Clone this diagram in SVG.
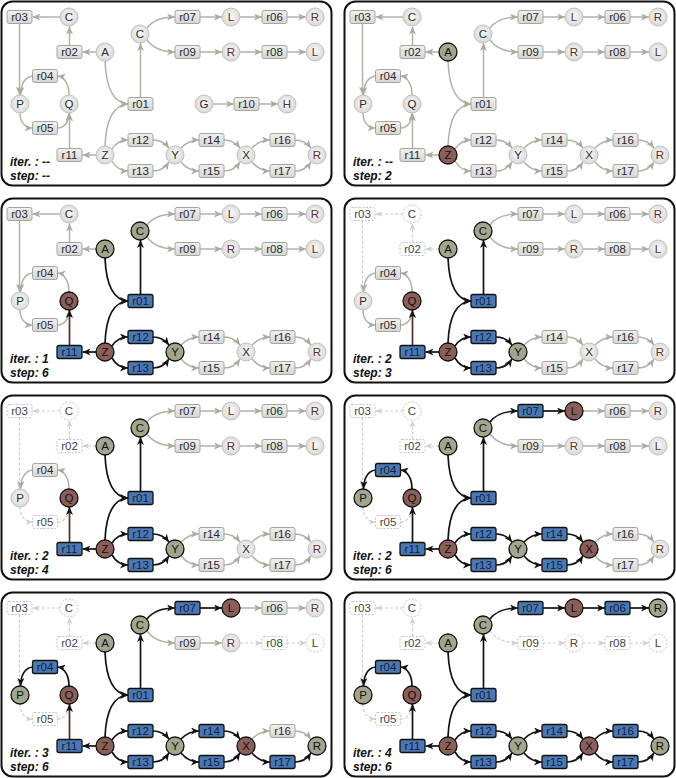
<svg xmlns="http://www.w3.org/2000/svg" width="676" height="778" viewBox="0 0 676 778">
<defs>
<style>
.pn{fill:#fff;stroke:#111;stroke-width:2}
text{font-family:"Liberation Sans",Arial,sans-serif;font-size:11.5px;text-anchor:middle;fill:#2a2a2a}
.lb{font-weight:bold;font-style:italic;text-anchor:start;fill:#111;font-size:12px}
.b rect{fill:url(#gb);stroke:#a3a79a;stroke-width:1}
.c circle{fill:url(#gc);stroke:#c0c2b8;stroke-width:1}
.r text{fill:#5e2d2d}
.A rect{fill:#4a78b4;stroke:#111;stroke-width:1.3}
.A text{fill:#13203a}
.O circle{fill:#a1a68d;stroke:#111;stroke-width:1.3}
.K circle{fill:#8b5e58;stroke:#111;stroke-width:1.3}
.O text,.K text{fill:#111}
.D rect,.D circle{fill:#fff;stroke:#c4c4c4;stroke-dasharray:2 1.5}
.D text{fill:#444}
.e{fill:none;stroke:#b0b4a7;stroke-width:1.5;marker-end:url(#mg)}
.a{fill:none;stroke:#111;stroke-width:1.7;marker-end:url(#mk)}
.ab{fill:none;stroke:#5a2a2a;stroke-width:1.7;marker-end:url(#mk)}
.d{fill:none;stroke:#cdcdcd;stroke-width:1.2;stroke-dasharray:3 2;marker-end:url(#md)}
</style>
<linearGradient id="gb" x1="0" y1="0" x2="0" y2="1"><stop offset="0" stop-color="#f0f0f0"/><stop offset="1" stop-color="#d6d6d6"/></linearGradient>
<radialGradient id="gc" cx="50%" cy="45%" r="60%"><stop offset="0" stop-color="#fbfbfb"/><stop offset="1" stop-color="#d4d4d4"/></radialGradient>
<marker id="mg" markerUnits="userSpaceOnUse" viewBox="0 0 8 7" refX="8" refY="3.5" markerWidth="8" markerHeight="7" orient="auto"><path d="M0,0L8,3.5L0,7L2.2,3.5z" fill="#a9ad9f"/></marker>
<marker id="mk" markerUnits="userSpaceOnUse" viewBox="0 0 8 7" refX="8" refY="3.5" markerWidth="8" markerHeight="7" orient="auto"><path d="M0,0L8,3.5L0,7L2.2,3.5z" fill="#111"/></marker>
<marker id="md" markerUnits="userSpaceOnUse" viewBox="0 0 8 7" refX="8" refY="3.5" markerWidth="7" markerHeight="6" orient="auto"><path d="M0,0L8,3.5L0,7L2.2,3.5z" fill="#d0d0d0"/></marker>
</defs>

<!-- PANEL 1 -->
<g id="panel1" transform="translate(0,0)">
<rect class="pn" x="1.5" y="1.5" width="330" height="184" rx="11"/>
<g id="p1-edges">
<path class="e" d="M60,17H32.5"/><path class="e" d="M69.5,45.5V26.5"/><path class="e" d="M96,52H82.5"/><path class="e" d="M19.5,23.5V95"/>
<path class="e" d="M32.5,76C25,77 21,84 20.5,95"/><path class="e" d="M69,95C69,85 65,77 57.5,76"/><path class="e" d="M20,113C20,122 25,128 32.5,128"/><path class="e" d="M57.5,128C65,128 69,121 69,113"/>
<path class="e" d="M69.5,148.5V113"/><path class="e" d="M96,155H82.5"/><path class="e" d="M105,61C106,86 113,103 128,104"/><path class="e" d="M105,146C106,121 113,105 128,104"/>
<path class="e" d="M140.5,97.5V43"/><path class="e" d="M147,28C153,20 162,17 175,17"/><path class="e" d="M147,40C153,48 162,52 175,52"/>
<path class="e" d="M200,17H222"/><path class="e" d="M240,17H262"/><path class="e" d="M287,17H306"/><path class="e" d="M200,52H222"/><path class="e" d="M240,52H262"/><path class="e" d="M287,52H306"/>
<path class="e" d="M213,104H234"/><path class="e" d="M259,104H278"/>
<path class="e" d="M112,149C116,143 121,140 128,140"/><path class="e" d="M112,161C116,168 121,171 128,171"/><path class="e" d="M153,140C160,140 165,143 169,148"/><path class="e" d="M153,171C160,171 165,168 169,162"/>
<path class="e" d="M181,148C186,143 192,140 199,140"/><path class="e" d="M181,162C186,168 192,171 199,171"/><path class="e" d="M224,140C231,140 236,143 240,148"/><path class="e" d="M224,171C231,171 236,168 240,162"/>
<path class="e" d="M252,148C257,143 263,140 270,140"/><path class="e" d="M252,162C257,168 263,171 270,171"/><path class="e" d="M295,140C302,140 307,143 311,148"/><path class="e" d="M295,171C302,171 307,168 311,162"/>
</g>
<g id="p1-r03" class="b"><rect x="7" y="10.5" width="25" height="13" rx="2"/><text x="19.5" y="21">r03</text></g>
<g id="p1-C1" class="c"><circle cx="69" cy="17" r="9"/><text x="69" y="21">C</text></g>
<g id="p1-r02" class="b"><rect x="57" y="45.5" width="25" height="13" rx="2"/><text x="69.5" y="56">r02</text></g>
<g id="p1-A" class="c"><circle cx="105" cy="52" r="9"/><text x="105" y="56">A</text></g>
<g id="p1-r04" class="b"><rect x="32.5" y="69.5" width="25" height="13" rx="2"/><text x="45" y="80">r04</text></g>
<g id="p1-P" class="c"><circle cx="20" cy="104" r="9"/><text x="20" y="108">P</text></g>
<g id="p1-Q" class="c"><circle cx="69" cy="104" r="9"/><text x="69" y="108">Q</text></g>
<g id="p1-r05" class="b"><rect x="32.5" y="121.5" width="25" height="13" rx="2"/><text x="45" y="132">r05</text></g>
<g id="p1-r11" class="b"><rect x="57" y="148.5" width="25" height="13" rx="2"/><text x="69.5" y="159">r11</text></g>
<g id="p1-Z" class="c"><circle cx="105" cy="155" r="9"/><text x="105" y="159">Z</text></g>
<g id="p1-r01" class="b"><rect x="128" y="97.5" width="25" height="13" rx="2"/><text x="140.5" y="108">r01</text></g>
<g id="p1-C2" class="c"><circle cx="140" cy="34" r="9"/><text x="140" y="38">C</text></g>
<g id="p1-r07" class="b"><rect x="175" y="10.5" width="25" height="13" rx="2"/><text x="187.5" y="21">r07</text></g>
<g id="p1-L1" class="c r"><circle cx="231" cy="17" r="9"/><text x="231" y="21">L</text></g>
<g id="p1-r06" class="b"><rect x="262" y="10.5" width="25" height="13" rx="2"/><text x="274.5" y="21">r06</text></g>
<g id="p1-R1" class="c r"><circle cx="315" cy="17" r="9"/><text x="315" y="21">R</text></g>
<g id="p1-r09" class="b"><rect x="175" y="45.5" width="25" height="13" rx="2"/><text x="187.5" y="56">r09</text></g>
<g id="p1-R2" class="c r"><circle cx="231" cy="52" r="9"/><text x="231" y="56">R</text></g>
<g id="p1-r08" class="b"><rect x="262" y="45.5" width="25" height="13" rx="2"/><text x="274.5" y="56">r08</text></g>
<g id="p1-L2" class="c r"><circle cx="315" cy="52" r="9"/><text x="315" y="56">L</text></g>
<g id="p1-G" class="c"><circle cx="204" cy="104" r="9"/><text x="204" y="108">G</text></g>
<g id="p1-r10" class="b"><rect x="234" y="97.5" width="25" height="13" rx="2"/><text x="246.5" y="108">r10</text></g>
<g id="p1-H" class="c r"><circle cx="287" cy="104" r="9"/><text x="287" y="108">H</text></g>
<g id="p1-r12" class="b"><rect x="128" y="133.5" width="25" height="13" rx="2"/><text x="140.5" y="144">r12</text></g>
<g id="p1-r13" class="b"><rect x="128" y="164.5" width="25" height="13" rx="2"/><text x="140.5" y="175">r13</text></g>
<g id="p1-Y" class="c"><circle cx="175" cy="155" r="9"/><text x="175" y="159">Y</text></g>
<g id="p1-r14" class="b"><rect x="199" y="133.5" width="25" height="13" rx="2"/><text x="211.5" y="144">r14</text></g>
<g id="p1-r15" class="b"><rect x="199" y="164.5" width="25" height="13" rx="2"/><text x="211.5" y="175">r15</text></g>
<g id="p1-X" class="c"><circle cx="246" cy="155" r="9"/><text x="246" y="159">X</text></g>
<g id="p1-r16" class="b"><rect x="270" y="133.5" width="25" height="13" rx="2"/><text x="282.5" y="144">r16</text></g>
<g id="p1-r17" class="b"><rect x="270" y="164.5" width="25" height="13" rx="2"/><text x="282.5" y="175">r17</text></g>
<g id="p1-R3" class="c r"><circle cx="317" cy="155" r="9"/><text x="317" y="159">R</text></g>
<text class="lb" x="10" y="166">iter. : --</text><text class="lb" x="10" y="180">step: --</text>
</g>

<!-- PANEL 2 -->
<g id="panel2" transform="translate(343,0)">
<rect class="pn" x="1.5" y="1.5" width="330" height="184" rx="11"/>
<g id="p2-edges">
<path class="e" d="M60,17H32.5"/><path class="e" d="M69.5,45.5V26.5"/><path class="e" d="M96,52H82.5"/><path class="e" d="M19.5,23.5V95"/>
<path class="e" d="M32.5,76C25,77 21,84 20.5,95"/><path class="e" d="M69,95C69,85 65,77 57.5,76"/><path class="e" d="M20,113C20,122 25,128 32.5,128"/><path class="e" d="M57.5,128C65,128 69,121 69,113"/>
<path class="e" d="M69.5,148.5V113"/><path class="e" d="M96,155H82.5"/><path class="e" d="M105,61C106,86 113,103 128,104"/><path class="e" d="M105,146C106,121 113,105 128,104"/>
<path class="e" d="M140.5,97.5V43"/><path class="e" d="M147,28C153,20 162,17 175,17"/><path class="e" d="M147,40C153,48 162,52 175,52"/>
<path class="e" d="M200,17H222"/><path class="e" d="M240,17H262"/><path class="e" d="M287,17H306"/><path class="e" d="M200,52H222"/><path class="e" d="M240,52H262"/><path class="e" d="M287,52H306"/>
<path class="e" d="M112,149C116,143 121,140 128,140"/><path class="e" d="M112,161C116,168 121,171 128,171"/><path class="e" d="M153,140C160,140 165,143 169,148"/><path class="e" d="M153,171C160,171 165,168 169,162"/>
<path class="e" d="M181,148C186,143 192,140 199,140"/><path class="e" d="M181,162C186,168 192,171 199,171"/><path class="e" d="M224,140C231,140 236,143 240,148"/><path class="e" d="M224,171C231,171 236,168 240,162"/>
<path class="e" d="M252,148C257,143 263,140 270,140"/><path class="e" d="M252,162C257,168 263,171 270,171"/><path class="e" d="M295,140C302,140 307,143 311,148"/><path class="e" d="M295,171C302,171 307,168 311,162"/>
</g>
<g id="p2-r03" class="b"><rect x="7" y="10.5" width="25" height="13" rx="2"/><text x="19.5" y="21">r03</text></g>
<g id="p2-C1" class="c"><circle cx="69" cy="17" r="9"/><text x="69" y="21">C</text></g>
<g id="p2-r02" class="b"><rect x="57" y="45.5" width="25" height="13" rx="2"/><text x="69.5" y="56">r02</text></g>
<g id="p2-A" class="c O"><circle cx="105" cy="52" r="9"/><text x="105" y="56">A</text></g>
<g id="p2-r04" class="b"><rect x="32.5" y="69.5" width="25" height="13" rx="2"/><text x="45" y="80">r04</text></g>
<g id="p2-P" class="c"><circle cx="20" cy="104" r="9"/><text x="20" y="108">P</text></g>
<g id="p2-Q" class="c"><circle cx="69" cy="104" r="9"/><text x="69" y="108">Q</text></g>
<g id="p2-r05" class="b"><rect x="32.5" y="121.5" width="25" height="13" rx="2"/><text x="45" y="132">r05</text></g>
<g id="p2-r11" class="b"><rect x="57" y="148.5" width="25" height="13" rx="2"/><text x="69.5" y="159">r11</text></g>
<g id="p2-Z" class="c K"><circle cx="105" cy="155" r="9"/><text x="105" y="159">Z</text></g>
<g id="p2-r01" class="b"><rect x="128" y="97.5" width="25" height="13" rx="2"/><text x="140.5" y="108">r01</text></g>
<g id="p2-C2" class="c"><circle cx="140" cy="34" r="9"/><text x="140" y="38">C</text></g>
<g id="p2-r07" class="b"><rect x="175" y="10.5" width="25" height="13" rx="2"/><text x="187.5" y="21">r07</text></g>
<g id="p2-L1" class="c r"><circle cx="231" cy="17" r="9"/><text x="231" y="21">L</text></g>
<g id="p2-r06" class="b"><rect x="262" y="10.5" width="25" height="13" rx="2"/><text x="274.5" y="21">r06</text></g>
<g id="p2-R1" class="c r"><circle cx="315" cy="17" r="9"/><text x="315" y="21">R</text></g>
<g id="p2-r09" class="b"><rect x="175" y="45.5" width="25" height="13" rx="2"/><text x="187.5" y="56">r09</text></g>
<g id="p2-R2" class="c r"><circle cx="231" cy="52" r="9"/><text x="231" y="56">R</text></g>
<g id="p2-r08" class="b"><rect x="262" y="45.5" width="25" height="13" rx="2"/><text x="274.5" y="56">r08</text></g>
<g id="p2-L2" class="c r"><circle cx="315" cy="52" r="9"/><text x="315" y="56">L</text></g>
<g id="p2-r12" class="b"><rect x="128" y="133.5" width="25" height="13" rx="2"/><text x="140.5" y="144">r12</text></g>
<g id="p2-r13" class="b"><rect x="128" y="164.5" width="25" height="13" rx="2"/><text x="140.5" y="175">r13</text></g>
<g id="p2-Y" class="c"><circle cx="175" cy="155" r="9"/><text x="175" y="159">Y</text></g>
<g id="p2-r14" class="b"><rect x="199" y="133.5" width="25" height="13" rx="2"/><text x="211.5" y="144">r14</text></g>
<g id="p2-r15" class="b"><rect x="199" y="164.5" width="25" height="13" rx="2"/><text x="211.5" y="175">r15</text></g>
<g id="p2-X" class="c"><circle cx="246" cy="155" r="9"/><text x="246" y="159">X</text></g>
<g id="p2-r16" class="b"><rect x="270" y="133.5" width="25" height="13" rx="2"/><text x="282.5" y="144">r16</text></g>
<g id="p2-r17" class="b"><rect x="270" y="164.5" width="25" height="13" rx="2"/><text x="282.5" y="175">r17</text></g>
<g id="p2-R3" class="c r"><circle cx="317" cy="155" r="9"/><text x="317" y="159">R</text></g>
<text class="lb" x="10" y="166">iter. : --</text><text class="lb" x="10" y="180">step: 2</text>
</g>

<!-- PANEL 3 -->
<g id="panel3" transform="translate(0,197)">
<rect class="pn" x="1.5" y="1.5" width="330" height="184" rx="11"/>
<g id="p3-edges">
<path class="e" d="M60,17H32.5"/><path class="e" d="M69.5,45.5V26.5"/><path class="e" d="M96,52H82.5"/><path class="e" d="M19.5,23.5V95"/>
<path class="e" d="M32.5,76C25,77 21,84 20.5,95"/><path class="e" d="M69,95C69,85 65,77 57.5,76"/><path class="e" d="M20,113C20,122 25,128 32.5,128"/><path class="e" d="M57.5,128C65,128 69,121 69,113"/>
<path class="ab" d="M69.5,148.5V113"/><path class="a" d="M96,155H82.5"/><path class="a" d="M105,61C106,86 113,103 128,104"/><path class="a" d="M105,146C106,121 113,105 128,104"/>
<path class="a" d="M140.5,97.5V43"/><path class="e" d="M147,28C153,20 162,17 175,17"/><path class="e" d="M147,40C153,48 162,52 175,52"/>
<path class="e" d="M200,17H222"/><path class="e" d="M240,17H262"/><path class="e" d="M287,17H306"/><path class="e" d="M200,52H222"/><path class="e" d="M240,52H262"/><path class="e" d="M287,52H306"/>
<path class="a" d="M112,149C116,143 121,140 128,140"/><path class="a" d="M112,161C116,168 121,171 128,171"/><path class="a" d="M153,140C160,140 165,143 169,148"/><path class="a" d="M153,171C160,171 165,168 169,162"/>
<path class="e" d="M181,148C186,143 192,140 199,140"/><path class="e" d="M181,162C186,168 192,171 199,171"/><path class="e" d="M224,140C231,140 236,143 240,148"/><path class="e" d="M224,171C231,171 236,168 240,162"/>
<path class="e" d="M252,148C257,143 263,140 270,140"/><path class="e" d="M252,162C257,168 263,171 270,171"/><path class="e" d="M295,140C302,140 307,143 311,148"/><path class="e" d="M295,171C302,171 307,168 311,162"/>
</g>
<g id="p3-r03" class="b"><rect x="7" y="10.5" width="25" height="13" rx="2"/><text x="19.5" y="21">r03</text></g>
<g id="p3-C1" class="c"><circle cx="69" cy="17" r="9"/><text x="69" y="21">C</text></g>
<g id="p3-r02" class="b"><rect x="57" y="45.5" width="25" height="13" rx="2"/><text x="69.5" y="56">r02</text></g>
<g id="p3-A" class="c O"><circle cx="105" cy="52" r="9"/><text x="105" y="56">A</text></g>
<g id="p3-r04" class="b"><rect x="32.5" y="69.5" width="25" height="13" rx="2"/><text x="45" y="80">r04</text></g>
<g id="p3-P" class="c"><circle cx="20" cy="104" r="9"/><text x="20" y="108">P</text></g>
<g id="p3-Q" class="c K"><circle cx="69" cy="104" r="9"/><text x="69" y="108">Q</text></g>
<g id="p3-r05" class="b"><rect x="32.5" y="121.5" width="25" height="13" rx="2"/><text x="45" y="132">r05</text></g>
<g id="p3-r11" class="b A"><rect x="57" y="148.5" width="25" height="13" rx="2"/><text x="69.5" y="159">r11</text></g>
<g id="p3-Z" class="c K"><circle cx="105" cy="155" r="9"/><text x="105" y="159">Z</text></g>
<g id="p3-r01" class="b A"><rect x="128" y="97.5" width="25" height="13" rx="2"/><text x="140.5" y="108">r01</text></g>
<g id="p3-C2" class="c O"><circle cx="140" cy="34" r="9"/><text x="140" y="38">C</text></g>
<g id="p3-r07" class="b"><rect x="175" y="10.5" width="25" height="13" rx="2"/><text x="187.5" y="21">r07</text></g>
<g id="p3-L1" class="c r"><circle cx="231" cy="17" r="9"/><text x="231" y="21">L</text></g>
<g id="p3-r06" class="b"><rect x="262" y="10.5" width="25" height="13" rx="2"/><text x="274.5" y="21">r06</text></g>
<g id="p3-R1" class="c r"><circle cx="315" cy="17" r="9"/><text x="315" y="21">R</text></g>
<g id="p3-r09" class="b"><rect x="175" y="45.5" width="25" height="13" rx="2"/><text x="187.5" y="56">r09</text></g>
<g id="p3-R2" class="c r"><circle cx="231" cy="52" r="9"/><text x="231" y="56">R</text></g>
<g id="p3-r08" class="b"><rect x="262" y="45.5" width="25" height="13" rx="2"/><text x="274.5" y="56">r08</text></g>
<g id="p3-L2" class="c r"><circle cx="315" cy="52" r="9"/><text x="315" y="56">L</text></g>
<g id="p3-r12" class="b A"><rect x="128" y="133.5" width="25" height="13" rx="2"/><text x="140.5" y="144">r12</text></g>
<g id="p3-r13" class="b A"><rect x="128" y="164.5" width="25" height="13" rx="2"/><text x="140.5" y="175">r13</text></g>
<g id="p3-Y" class="c O"><circle cx="175" cy="155" r="9"/><text x="175" y="159">Y</text></g>
<g id="p3-r14" class="b"><rect x="199" y="133.5" width="25" height="13" rx="2"/><text x="211.5" y="144">r14</text></g>
<g id="p3-r15" class="b"><rect x="199" y="164.5" width="25" height="13" rx="2"/><text x="211.5" y="175">r15</text></g>
<g id="p3-X" class="c"><circle cx="246" cy="155" r="9"/><text x="246" y="159">X</text></g>
<g id="p3-r16" class="b"><rect x="270" y="133.5" width="25" height="13" rx="2"/><text x="282.5" y="144">r16</text></g>
<g id="p3-r17" class="b"><rect x="270" y="164.5" width="25" height="13" rx="2"/><text x="282.5" y="175">r17</text></g>
<g id="p3-R3" class="c r"><circle cx="317" cy="155" r="9"/><text x="317" y="159">R</text></g>
<text class="lb" x="10" y="166">iter. : 1</text><text class="lb" x="10" y="180">step: 6</text>
</g>

<!-- PANEL 4 -->
<g id="panel4" transform="translate(343,197)">
<rect class="pn" x="1.5" y="1.5" width="330" height="184" rx="11"/>
<g id="p4-edges">
<path class="d" d="M60,17H32.5"/><path class="d" d="M69.5,45.5V26.5"/><path class="d" d="M96,52H82.5"/><path class="d" d="M19.5,23.5V95"/>
<path class="e" d="M32.5,76C25,77 21,84 20.5,95"/><path class="e" d="M69,95C69,85 65,77 57.5,76"/><path class="e" d="M20,113C20,122 25,128 32.5,128"/><path class="e" d="M57.5,128C65,128 69,121 69,113"/>
<path class="ab" d="M69.5,148.5V113"/><path class="a" d="M96,155H82.5"/><path class="a" d="M105,61C106,86 113,103 128,104"/><path class="a" d="M105,146C106,121 113,105 128,104"/>
<path class="a" d="M140.5,97.5V43"/><path class="e" d="M147,28C153,20 162,17 175,17"/><path class="e" d="M147,40C153,48 162,52 175,52"/>
<path class="e" d="M200,17H222"/><path class="e" d="M240,17H262"/><path class="e" d="M287,17H306"/><path class="e" d="M200,52H222"/><path class="e" d="M240,52H262"/><path class="e" d="M287,52H306"/>
<path class="a" d="M112,149C116,143 121,140 128,140"/><path class="a" d="M112,161C116,168 121,171 128,171"/><path class="a" d="M153,140C160,140 165,143 169,148"/><path class="a" d="M153,171C160,171 165,168 169,162"/>
<path class="e" d="M181,148C186,143 192,140 199,140"/><path class="e" d="M181,162C186,168 192,171 199,171"/><path class="e" d="M224,140C231,140 236,143 240,148"/><path class="e" d="M224,171C231,171 236,168 240,162"/>
<path class="e" d="M252,148C257,143 263,140 270,140"/><path class="e" d="M252,162C257,168 263,171 270,171"/><path class="e" d="M295,140C302,140 307,143 311,148"/><path class="e" d="M295,171C302,171 307,168 311,162"/>
</g>
<g id="p4-r03" class="b D"><rect x="7" y="10.5" width="25" height="13" rx="2"/><text x="19.5" y="21">r03</text></g>
<g id="p4-C1" class="c D"><circle cx="69" cy="17" r="9"/><text x="69" y="21">C</text></g>
<g id="p4-r02" class="b D"><rect x="57" y="45.5" width="25" height="13" rx="2"/><text x="69.5" y="56">r02</text></g>
<g id="p4-A" class="c O"><circle cx="105" cy="52" r="9"/><text x="105" y="56">A</text></g>
<g id="p4-r04" class="b"><rect x="32.5" y="69.5" width="25" height="13" rx="2"/><text x="45" y="80">r04</text></g>
<g id="p4-P" class="c"><circle cx="20" cy="104" r="9"/><text x="20" y="108">P</text></g>
<g id="p4-Q" class="c K"><circle cx="69" cy="104" r="9"/><text x="69" y="108">Q</text></g>
<g id="p4-r05" class="b"><rect x="32.5" y="121.5" width="25" height="13" rx="2"/><text x="45" y="132">r05</text></g>
<g id="p4-r11" class="b A"><rect x="57" y="148.5" width="25" height="13" rx="2"/><text x="69.5" y="159">r11</text></g>
<g id="p4-Z" class="c K"><circle cx="105" cy="155" r="9"/><text x="105" y="159">Z</text></g>
<g id="p4-r01" class="b A"><rect x="128" y="97.5" width="25" height="13" rx="2"/><text x="140.5" y="108">r01</text></g>
<g id="p4-C2" class="c O"><circle cx="140" cy="34" r="9"/><text x="140" y="38">C</text></g>
<g id="p4-r07" class="b"><rect x="175" y="10.5" width="25" height="13" rx="2"/><text x="187.5" y="21">r07</text></g>
<g id="p4-L1" class="c r"><circle cx="231" cy="17" r="9"/><text x="231" y="21">L</text></g>
<g id="p4-r06" class="b"><rect x="262" y="10.5" width="25" height="13" rx="2"/><text x="274.5" y="21">r06</text></g>
<g id="p4-R1" class="c r"><circle cx="315" cy="17" r="9"/><text x="315" y="21">R</text></g>
<g id="p4-r09" class="b"><rect x="175" y="45.5" width="25" height="13" rx="2"/><text x="187.5" y="56">r09</text></g>
<g id="p4-R2" class="c r"><circle cx="231" cy="52" r="9"/><text x="231" y="56">R</text></g>
<g id="p4-r08" class="b"><rect x="262" y="45.5" width="25" height="13" rx="2"/><text x="274.5" y="56">r08</text></g>
<g id="p4-L2" class="c r"><circle cx="315" cy="52" r="9"/><text x="315" y="56">L</text></g>
<g id="p4-r12" class="b A"><rect x="128" y="133.5" width="25" height="13" rx="2"/><text x="140.5" y="144">r12</text></g>
<g id="p4-r13" class="b A"><rect x="128" y="164.5" width="25" height="13" rx="2"/><text x="140.5" y="175">r13</text></g>
<g id="p4-Y" class="c O"><circle cx="175" cy="155" r="9"/><text x="175" y="159">Y</text></g>
<g id="p4-r14" class="b"><rect x="199" y="133.5" width="25" height="13" rx="2"/><text x="211.5" y="144">r14</text></g>
<g id="p4-r15" class="b"><rect x="199" y="164.5" width="25" height="13" rx="2"/><text x="211.5" y="175">r15</text></g>
<g id="p4-X" class="c"><circle cx="246" cy="155" r="9"/><text x="246" y="159">X</text></g>
<g id="p4-r16" class="b"><rect x="270" y="133.5" width="25" height="13" rx="2"/><text x="282.5" y="144">r16</text></g>
<g id="p4-r17" class="b"><rect x="270" y="164.5" width="25" height="13" rx="2"/><text x="282.5" y="175">r17</text></g>
<g id="p4-R3" class="c r"><circle cx="317" cy="155" r="9"/><text x="317" y="159">R</text></g>
<text class="lb" x="10" y="166">iter. : 2</text><text class="lb" x="10" y="180">step: 3</text>
</g>

<!-- PANEL 5 -->
<g id="panel5" transform="translate(0,394)">
<rect class="pn" x="1.5" y="1.5" width="330" height="184" rx="11"/>
<g id="p5-edges">
<path class="d" d="M60,17H32.5"/><path class="d" d="M69.5,45.5V26.5"/><path class="d" d="M96,52H82.5"/><path class="d" d="M19.5,23.5V95"/>
<path class="e" d="M32.5,76C25,77 21,84 20.5,95"/><path class="e" d="M69,95C69,85 65,77 57.5,76"/><path class="d" d="M20,113C20,122 25,128 32.5,128"/><path class="d" d="M57.5,128C65,128 69,121 69,113"/>
<path class="ab" d="M69.5,148.5V113"/><path class="a" d="M96,155H82.5"/><path class="a" d="M105,61C106,86 113,103 128,104"/><path class="a" d="M105,146C106,121 113,105 128,104"/>
<path class="a" d="M140.5,97.5V43"/><path class="e" d="M147,28C153,20 162,17 175,17"/><path class="e" d="M147,40C153,48 162,52 175,52"/>
<path class="e" d="M200,17H222"/><path class="e" d="M240,17H262"/><path class="e" d="M287,17H306"/><path class="e" d="M200,52H222"/><path class="e" d="M240,52H262"/><path class="e" d="M287,52H306"/>
<path class="a" d="M112,149C116,143 121,140 128,140"/><path class="a" d="M112,161C116,168 121,171 128,171"/><path class="a" d="M153,140C160,140 165,143 169,148"/><path class="a" d="M153,171C160,171 165,168 169,162"/>
<path class="e" d="M181,148C186,143 192,140 199,140"/><path class="e" d="M181,162C186,168 192,171 199,171"/><path class="e" d="M224,140C231,140 236,143 240,148"/><path class="e" d="M224,171C231,171 236,168 240,162"/>
<path class="e" d="M252,148C257,143 263,140 270,140"/><path class="e" d="M252,162C257,168 263,171 270,171"/><path class="e" d="M295,140C302,140 307,143 311,148"/><path class="e" d="M295,171C302,171 307,168 311,162"/>
</g>
<g id="p5-r03" class="b D"><rect x="7" y="10.5" width="25" height="13" rx="2"/><text x="19.5" y="21">r03</text></g>
<g id="p5-C1" class="c D"><circle cx="69" cy="17" r="9"/><text x="69" y="21">C</text></g>
<g id="p5-r02" class="b D"><rect x="57" y="45.5" width="25" height="13" rx="2"/><text x="69.5" y="56">r02</text></g>
<g id="p5-A" class="c O"><circle cx="105" cy="52" r="9"/><text x="105" y="56">A</text></g>
<g id="p5-r04" class="b"><rect x="32.5" y="69.5" width="25" height="13" rx="2"/><text x="45" y="80">r04</text></g>
<g id="p5-P" class="c"><circle cx="20" cy="104" r="9"/><text x="20" y="108">P</text></g>
<g id="p5-Q" class="c K"><circle cx="69" cy="104" r="9"/><text x="69" y="108">Q</text></g>
<g id="p5-r05" class="b D"><rect x="32.5" y="121.5" width="25" height="13" rx="2"/><text x="45" y="132">r05</text></g>
<g id="p5-r11" class="b A"><rect x="57" y="148.5" width="25" height="13" rx="2"/><text x="69.5" y="159">r11</text></g>
<g id="p5-Z" class="c K"><circle cx="105" cy="155" r="9"/><text x="105" y="159">Z</text></g>
<g id="p5-r01" class="b A"><rect x="128" y="97.5" width="25" height="13" rx="2"/><text x="140.5" y="108">r01</text></g>
<g id="p5-C2" class="c O"><circle cx="140" cy="34" r="9"/><text x="140" y="38">C</text></g>
<g id="p5-r07" class="b"><rect x="175" y="10.5" width="25" height="13" rx="2"/><text x="187.5" y="21">r07</text></g>
<g id="p5-L1" class="c r"><circle cx="231" cy="17" r="9"/><text x="231" y="21">L</text></g>
<g id="p5-r06" class="b"><rect x="262" y="10.5" width="25" height="13" rx="2"/><text x="274.5" y="21">r06</text></g>
<g id="p5-R1" class="c r"><circle cx="315" cy="17" r="9"/><text x="315" y="21">R</text></g>
<g id="p5-r09" class="b"><rect x="175" y="45.5" width="25" height="13" rx="2"/><text x="187.5" y="56">r09</text></g>
<g id="p5-R2" class="c r"><circle cx="231" cy="52" r="9"/><text x="231" y="56">R</text></g>
<g id="p5-r08" class="b"><rect x="262" y="45.5" width="25" height="13" rx="2"/><text x="274.5" y="56">r08</text></g>
<g id="p5-L2" class="c r"><circle cx="315" cy="52" r="9"/><text x="315" y="56">L</text></g>
<g id="p5-r12" class="b A"><rect x="128" y="133.5" width="25" height="13" rx="2"/><text x="140.5" y="144">r12</text></g>
<g id="p5-r13" class="b A"><rect x="128" y="164.5" width="25" height="13" rx="2"/><text x="140.5" y="175">r13</text></g>
<g id="p5-Y" class="c O"><circle cx="175" cy="155" r="9"/><text x="175" y="159">Y</text></g>
<g id="p5-r14" class="b"><rect x="199" y="133.5" width="25" height="13" rx="2"/><text x="211.5" y="144">r14</text></g>
<g id="p5-r15" class="b"><rect x="199" y="164.5" width="25" height="13" rx="2"/><text x="211.5" y="175">r15</text></g>
<g id="p5-X" class="c"><circle cx="246" cy="155" r="9"/><text x="246" y="159">X</text></g>
<g id="p5-r16" class="b"><rect x="270" y="133.5" width="25" height="13" rx="2"/><text x="282.5" y="144">r16</text></g>
<g id="p5-r17" class="b"><rect x="270" y="164.5" width="25" height="13" rx="2"/><text x="282.5" y="175">r17</text></g>
<g id="p5-R3" class="c r"><circle cx="317" cy="155" r="9"/><text x="317" y="159">R</text></g>
<text class="lb" x="10" y="166">iter. : 2</text><text class="lb" x="10" y="180">step: 4</text>
</g>

<!-- PANEL 6 -->
<g id="panel6" transform="translate(343,394)">
<rect class="pn" x="1.5" y="1.5" width="330" height="184" rx="11"/>
<g id="p6-edges">
<path class="d" d="M60,17H32.5"/><path class="d" d="M69.5,45.5V26.5"/><path class="d" d="M96,52H82.5"/><path class="d" d="M19.5,23.5V95"/>
<path class="a" d="M32.5,76C25,77 21,84 20.5,95"/><path class="a" d="M69,95C69,85 65,77 57.5,76"/><path class="d" d="M20,113C20,122 25,128 32.5,128"/><path class="d" d="M57.5,128C65,128 69,121 69,113"/>
<path class="a" d="M69.5,148.5V113"/><path class="a" d="M96,155H82.5"/><path class="a" d="M105,61C106,86 113,103 128,104"/><path class="a" d="M105,146C106,121 113,105 128,104"/>
<path class="a" d="M140.5,97.5V43"/><path class="a" d="M147,28C153,20 162,17 175,17"/><path class="e" d="M147,40C153,48 162,52 175,52"/>
<path class="a" d="M200,17H222"/><path class="e" d="M240,17H262"/><path class="e" d="M287,17H306"/><path class="e" d="M200,52H222"/><path class="e" d="M240,52H262"/><path class="e" d="M287,52H306"/>
<path class="a" d="M112,149C116,143 121,140 128,140"/><path class="a" d="M112,161C116,168 121,171 128,171"/><path class="a" d="M153,140C160,140 165,143 169,148"/><path class="a" d="M153,171C160,171 165,168 169,162"/>
<path class="a" d="M181,148C186,143 192,140 199,140"/><path class="a" d="M181,162C186,168 192,171 199,171"/><path class="a" d="M224,140C231,140 236,143 240,148"/><path class="a" d="M224,171C231,171 236,168 240,162"/>
<path class="e" d="M252,148C257,143 263,140 270,140"/><path class="e" d="M252,162C257,168 263,171 270,171"/><path class="e" d="M295,140C302,140 307,143 311,148"/><path class="e" d="M295,171C302,171 307,168 311,162"/>
</g>
<g id="p6-r03" class="b D"><rect x="7" y="10.5" width="25" height="13" rx="2"/><text x="19.5" y="21">r03</text></g>
<g id="p6-C1" class="c D"><circle cx="69" cy="17" r="9"/><text x="69" y="21">C</text></g>
<g id="p6-r02" class="b D"><rect x="57" y="45.5" width="25" height="13" rx="2"/><text x="69.5" y="56">r02</text></g>
<g id="p6-A" class="c O"><circle cx="105" cy="52" r="9"/><text x="105" y="56">A</text></g>
<g id="p6-r04" class="b A"><rect x="32.5" y="69.5" width="25" height="13" rx="2"/><text x="45" y="80">r04</text></g>
<g id="p6-P" class="c O"><circle cx="20" cy="104" r="9"/><text x="20" y="108">P</text></g>
<g id="p6-Q" class="c K"><circle cx="69" cy="104" r="9"/><text x="69" y="108">Q</text></g>
<g id="p6-r05" class="b D"><rect x="32.5" y="121.5" width="25" height="13" rx="2"/><text x="45" y="132">r05</text></g>
<g id="p6-r11" class="b A"><rect x="57" y="148.5" width="25" height="13" rx="2"/><text x="69.5" y="159">r11</text></g>
<g id="p6-Z" class="c K"><circle cx="105" cy="155" r="9"/><text x="105" y="159">Z</text></g>
<g id="p6-r01" class="b A"><rect x="128" y="97.5" width="25" height="13" rx="2"/><text x="140.5" y="108">r01</text></g>
<g id="p6-C2" class="c O"><circle cx="140" cy="34" r="9"/><text x="140" y="38">C</text></g>
<g id="p6-r07" class="b A"><rect x="175" y="10.5" width="25" height="13" rx="2"/><text x="187.5" y="21">r07</text></g>
<g id="p6-L1" class="c r K"><circle cx="231" cy="17" r="9"/><text x="231" y="21">L</text></g>
<g id="p6-r06" class="b"><rect x="262" y="10.5" width="25" height="13" rx="2"/><text x="274.5" y="21">r06</text></g>
<g id="p6-R1" class="c r"><circle cx="315" cy="17" r="9"/><text x="315" y="21">R</text></g>
<g id="p6-r09" class="b"><rect x="175" y="45.5" width="25" height="13" rx="2"/><text x="187.5" y="56">r09</text></g>
<g id="p6-R2" class="c r"><circle cx="231" cy="52" r="9"/><text x="231" y="56">R</text></g>
<g id="p6-r08" class="b"><rect x="262" y="45.5" width="25" height="13" rx="2"/><text x="274.5" y="56">r08</text></g>
<g id="p6-L2" class="c r"><circle cx="315" cy="52" r="9"/><text x="315" y="56">L</text></g>
<g id="p6-r12" class="b A"><rect x="128" y="133.5" width="25" height="13" rx="2"/><text x="140.5" y="144">r12</text></g>
<g id="p6-r13" class="b A"><rect x="128" y="164.5" width="25" height="13" rx="2"/><text x="140.5" y="175">r13</text></g>
<g id="p6-Y" class="c O"><circle cx="175" cy="155" r="9"/><text x="175" y="159">Y</text></g>
<g id="p6-r14" class="b A"><rect x="199" y="133.5" width="25" height="13" rx="2"/><text x="211.5" y="144">r14</text></g>
<g id="p6-r15" class="b A"><rect x="199" y="164.5" width="25" height="13" rx="2"/><text x="211.5" y="175">r15</text></g>
<g id="p6-X" class="c K"><circle cx="246" cy="155" r="9"/><text x="246" y="159">X</text></g>
<g id="p6-r16" class="b"><rect x="270" y="133.5" width="25" height="13" rx="2"/><text x="282.5" y="144">r16</text></g>
<g id="p6-r17" class="b"><rect x="270" y="164.5" width="25" height="13" rx="2"/><text x="282.5" y="175">r17</text></g>
<g id="p6-R3" class="c r"><circle cx="317" cy="155" r="9"/><text x="317" y="159">R</text></g>
<text class="lb" x="10" y="166">iter. : 2</text><text class="lb" x="10" y="180">step: 6</text>
</g>

<!-- PANEL 7 -->
<g id="panel7" transform="translate(0,591)">
<rect class="pn" x="1.5" y="1.5" width="330" height="184" rx="11"/>
<g id="p7-edges">
<path class="d" d="M60,17H32.5"/><path class="d" d="M69.5,45.5V26.5"/><path class="d" d="M96,52H82.5"/><path class="d" d="M19.5,23.5V95"/>
<path class="a" d="M32.5,76C25,77 21,84 20.5,95"/><path class="a" d="M69,95C69,85 65,77 57.5,76"/><path class="d" d="M20,113C20,122 25,128 32.5,128"/><path class="d" d="M57.5,128C65,128 69,121 69,113"/>
<path class="ab" d="M69.5,148.5V113"/><path class="a" d="M96,155H82.5"/><path class="a" d="M105,61C106,86 113,103 128,104"/><path class="a" d="M105,146C106,121 113,105 128,104"/>
<path class="a" d="M140.5,97.5V43"/><path class="a" d="M147,28C153,20 162,17 175,17"/><path class="e" d="M147,40C153,48 162,52 175,52"/>
<path class="a" d="M200,17H222"/><path class="e" d="M240,17H262"/><path class="e" d="M287,17H306"/><path class="e" d="M200,52H222"/><path class="d" d="M240,52H262"/><path class="d" d="M287,52H306"/>
<path class="a" d="M112,149C116,143 121,140 128,140"/><path class="a" d="M112,161C116,168 121,171 128,171"/><path class="a" d="M153,140C160,140 165,143 169,148"/><path class="a" d="M153,171C160,171 165,168 169,162"/>
<path class="a" d="M181,148C186,143 192,140 199,140"/><path class="a" d="M181,162C186,168 192,171 199,171"/><path class="a" d="M224,140C231,140 236,143 240,148"/><path class="a" d="M224,171C231,171 236,168 240,162"/>
<path class="e" d="M252,148C257,143 263,140 270,140"/><path class="a" d="M252,162C257,168 263,171 270,171"/><path class="e" d="M295,140C302,140 307,143 311,148"/><path class="a" d="M295,171C302,171 307,168 311,162"/>
</g>
<g id="p7-r03" class="b D"><rect x="7" y="10.5" width="25" height="13" rx="2"/><text x="19.5" y="21">r03</text></g>
<g id="p7-C1" class="c D"><circle cx="69" cy="17" r="9"/><text x="69" y="21">C</text></g>
<g id="p7-r02" class="b D"><rect x="57" y="45.5" width="25" height="13" rx="2"/><text x="69.5" y="56">r02</text></g>
<g id="p7-A" class="c O"><circle cx="105" cy="52" r="9"/><text x="105" y="56">A</text></g>
<g id="p7-r04" class="b A"><rect x="32.5" y="69.5" width="25" height="13" rx="2"/><text x="45" y="80">r04</text></g>
<g id="p7-P" class="c O"><circle cx="20" cy="104" r="9"/><text x="20" y="108">P</text></g>
<g id="p7-Q" class="c K"><circle cx="69" cy="104" r="9"/><text x="69" y="108">Q</text></g>
<g id="p7-r05" class="b D"><rect x="32.5" y="121.5" width="25" height="13" rx="2"/><text x="45" y="132">r05</text></g>
<g id="p7-r11" class="b A"><rect x="57" y="148.5" width="25" height="13" rx="2"/><text x="69.5" y="159">r11</text></g>
<g id="p7-Z" class="c K"><circle cx="105" cy="155" r="9"/><text x="105" y="159">Z</text></g>
<g id="p7-r01" class="b A"><rect x="128" y="97.5" width="25" height="13" rx="2"/><text x="140.5" y="108">r01</text></g>
<g id="p7-C2" class="c O"><circle cx="140" cy="34" r="9"/><text x="140" y="38">C</text></g>
<g id="p7-r07" class="b A"><rect x="175" y="10.5" width="25" height="13" rx="2"/><text x="187.5" y="21">r07</text></g>
<g id="p7-L1" class="c r K"><circle cx="231" cy="17" r="9"/><text x="231" y="21">L</text></g>
<g id="p7-r06" class="b"><rect x="262" y="10.5" width="25" height="13" rx="2"/><text x="274.5" y="21">r06</text></g>
<g id="p7-R1" class="c r"><circle cx="315" cy="17" r="9"/><text x="315" y="21">R</text></g>
<g id="p7-r09" class="b"><rect x="175" y="45.5" width="25" height="13" rx="2"/><text x="187.5" y="56">r09</text></g>
<g id="p7-R2" class="c r"><circle cx="231" cy="52" r="9"/><text x="231" y="56">R</text></g>
<g id="p7-r08" class="b D"><rect x="262" y="45.5" width="25" height="13" rx="2"/><text x="274.5" y="56">r08</text></g>
<g id="p7-L2" class="c r D"><circle cx="315" cy="52" r="9"/><text x="315" y="56">L</text></g>
<g id="p7-r12" class="b A"><rect x="128" y="133.5" width="25" height="13" rx="2"/><text x="140.5" y="144">r12</text></g>
<g id="p7-r13" class="b A"><rect x="128" y="164.5" width="25" height="13" rx="2"/><text x="140.5" y="175">r13</text></g>
<g id="p7-Y" class="c O"><circle cx="175" cy="155" r="9"/><text x="175" y="159">Y</text></g>
<g id="p7-r14" class="b A"><rect x="199" y="133.5" width="25" height="13" rx="2"/><text x="211.5" y="144">r14</text></g>
<g id="p7-r15" class="b A"><rect x="199" y="164.5" width="25" height="13" rx="2"/><text x="211.5" y="175">r15</text></g>
<g id="p7-X" class="c K"><circle cx="246" cy="155" r="9"/><text x="246" y="159">X</text></g>
<g id="p7-r16" class="b"><rect x="270" y="133.5" width="25" height="13" rx="2"/><text x="282.5" y="144">r16</text></g>
<g id="p7-r17" class="b A"><rect x="270" y="164.5" width="25" height="13" rx="2"/><text x="282.5" y="175">r17</text></g>
<g id="p7-R3" class="c r O"><circle cx="317" cy="155" r="9"/><text x="317" y="159">R</text></g>
<text class="lb" x="10" y="166">iter. : 3</text><text class="lb" x="10" y="180">step: 6</text>
</g>

<!-- PANEL 8 -->
<g id="panel8" transform="translate(343,591)">
<rect class="pn" x="1.5" y="1.5" width="330" height="184" rx="11"/>
<g id="p8-edges">
<path class="d" d="M60,17H32.5"/><path class="d" d="M69.5,45.5V26.5"/><path class="d" d="M96,52H82.5"/><path class="d" d="M19.5,23.5V95"/>
<path class="a" d="M32.5,76C25,77 21,84 20.5,95"/><path class="a" d="M69,95C69,85 65,77 57.5,76"/><path class="d" d="M20,113C20,122 25,128 32.5,128"/><path class="d" d="M57.5,128C65,128 69,121 69,113"/>
<path class="a" d="M69.5,148.5V113"/><path class="a" d="M96,155H82.5"/><path class="a" d="M105,61C106,86 113,103 128,104"/><path class="a" d="M105,146C106,121 113,105 128,104"/>
<path class="a" d="M140.5,97.5V43"/><path class="a" d="M147,28C153,20 162,17 175,17"/><path class="d" d="M147,40C153,48 162,52 175,52"/>
<path class="a" d="M200,17H222"/><path class="a" d="M240,17H262"/><path class="a" d="M287,17H306"/><path class="d" d="M200,52H222"/><path class="d" d="M240,52H262"/><path class="d" d="M287,52H306"/>
<path class="a" d="M112,149C116,143 121,140 128,140"/><path class="a" d="M112,161C116,168 121,171 128,171"/><path class="a" d="M153,140C160,140 165,143 169,148"/><path class="a" d="M153,171C160,171 165,168 169,162"/>
<path class="a" d="M181,148C186,143 192,140 199,140"/><path class="a" d="M181,162C186,168 192,171 199,171"/><path class="a" d="M224,140C231,140 236,143 240,148"/><path class="a" d="M224,171C231,171 236,168 240,162"/>
<path class="a" d="M252,148C257,143 263,140 270,140"/><path class="a" d="M252,162C257,168 263,171 270,171"/><path class="a" d="M295,140C302,140 307,143 311,148"/><path class="a" d="M295,171C302,171 307,168 311,162"/>
</g>
<g id="p8-r03" class="b D"><rect x="7" y="10.5" width="25" height="13" rx="2"/><text x="19.5" y="21">r03</text></g>
<g id="p8-C1" class="c D"><circle cx="69" cy="17" r="9"/><text x="69" y="21">C</text></g>
<g id="p8-r02" class="b D"><rect x="57" y="45.5" width="25" height="13" rx="2"/><text x="69.5" y="56">r02</text></g>
<g id="p8-A" class="c O"><circle cx="105" cy="52" r="9"/><text x="105" y="56">A</text></g>
<g id="p8-r04" class="b A"><rect x="32.5" y="69.5" width="25" height="13" rx="2"/><text x="45" y="80">r04</text></g>
<g id="p8-P" class="c O"><circle cx="20" cy="104" r="9"/><text x="20" y="108">P</text></g>
<g id="p8-Q" class="c K"><circle cx="69" cy="104" r="9"/><text x="69" y="108">Q</text></g>
<g id="p8-r05" class="b D"><rect x="32.5" y="121.5" width="25" height="13" rx="2"/><text x="45" y="132">r05</text></g>
<g id="p8-r11" class="b A"><rect x="57" y="148.5" width="25" height="13" rx="2"/><text x="69.5" y="159">r11</text></g>
<g id="p8-Z" class="c K"><circle cx="105" cy="155" r="9"/><text x="105" y="159">Z</text></g>
<g id="p8-r01" class="b A"><rect x="128" y="97.5" width="25" height="13" rx="2"/><text x="140.5" y="108">r01</text></g>
<g id="p8-C2" class="c O"><circle cx="140" cy="34" r="9"/><text x="140" y="38">C</text></g>
<g id="p8-r07" class="b A"><rect x="175" y="10.5" width="25" height="13" rx="2"/><text x="187.5" y="21">r07</text></g>
<g id="p8-L1" class="c r K"><circle cx="231" cy="17" r="9"/><text x="231" y="21">L</text></g>
<g id="p8-r06" class="b A"><rect x="262" y="10.5" width="25" height="13" rx="2"/><text x="274.5" y="21">r06</text></g>
<g id="p8-R1" class="c r O"><circle cx="315" cy="17" r="9"/><text x="315" y="21">R</text></g>
<g id="p8-r09" class="b D"><rect x="175" y="45.5" width="25" height="13" rx="2"/><text x="187.5" y="56">r09</text></g>
<g id="p8-R2" class="c r D"><circle cx="231" cy="52" r="9"/><text x="231" y="56">R</text></g>
<g id="p8-r08" class="b D"><rect x="262" y="45.5" width="25" height="13" rx="2"/><text x="274.5" y="56">r08</text></g>
<g id="p8-L2" class="c r D"><circle cx="315" cy="52" r="9"/><text x="315" y="56">L</text></g>
<g id="p8-r12" class="b A"><rect x="128" y="133.5" width="25" height="13" rx="2"/><text x="140.5" y="144">r12</text></g>
<g id="p8-r13" class="b A"><rect x="128" y="164.5" width="25" height="13" rx="2"/><text x="140.5" y="175">r13</text></g>
<g id="p8-Y" class="c O"><circle cx="175" cy="155" r="9"/><text x="175" y="159">Y</text></g>
<g id="p8-r14" class="b A"><rect x="199" y="133.5" width="25" height="13" rx="2"/><text x="211.5" y="144">r14</text></g>
<g id="p8-r15" class="b A"><rect x="199" y="164.5" width="25" height="13" rx="2"/><text x="211.5" y="175">r15</text></g>
<g id="p8-X" class="c K"><circle cx="246" cy="155" r="9"/><text x="246" y="159">X</text></g>
<g id="p8-r16" class="b A"><rect x="270" y="133.5" width="25" height="13" rx="2"/><text x="282.5" y="144">r16</text></g>
<g id="p8-r17" class="b A"><rect x="270" y="164.5" width="25" height="13" rx="2"/><text x="282.5" y="175">r17</text></g>
<g id="p8-R3" class="c r O"><circle cx="317" cy="155" r="9"/><text x="317" y="159">R</text></g>
<text class="lb" x="10" y="166">iter. : 4</text><text class="lb" x="10" y="180">step: 6</text>
</g>
</svg>
